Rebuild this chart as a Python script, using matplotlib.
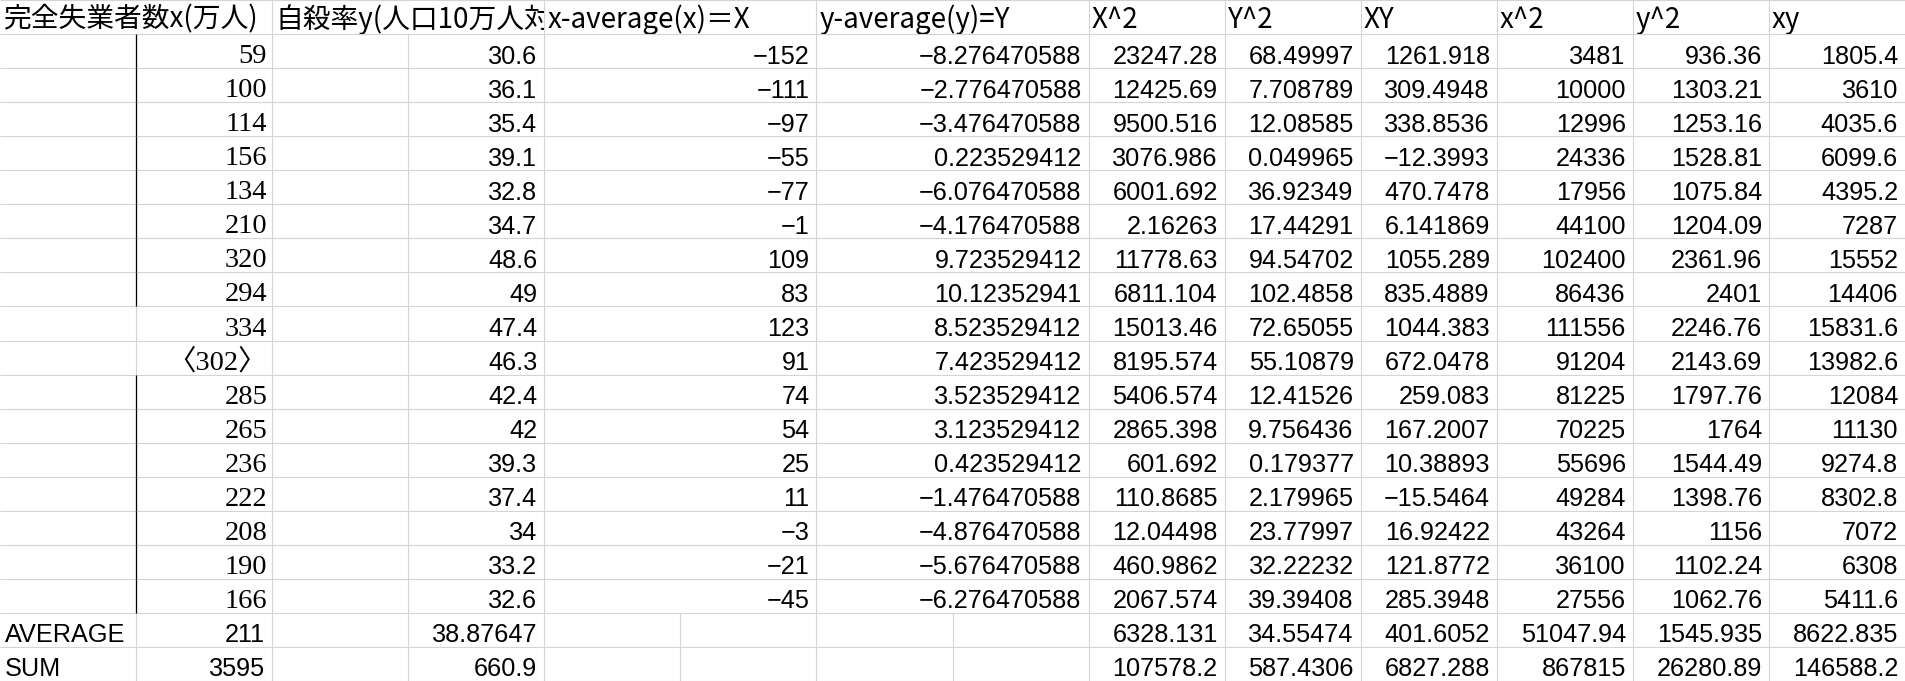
import matplotlib.pyplot as plt
from matplotlib.patches import Rectangle

plt.rcParams['font.family'] = ['Liberation Sans', 'Noto Sans CJK JP']

# 表のデータ
headers = ["完全失業者数x(万人)", "自殺率y(人口10万人対)", "x-average(x)＝X", "y-average(y)=Y",
           "X^2", "Y^2", "XY", "x^2", "y^2", "xy"]
header_cols = [0, 2, 4, 6, 8, 9, 10, 11, 12, 13]

x = [59, 100, 114, 156, 134, 210, 320, 294, 334, 302, 285, 265, 236, 222, 208, 190, 166]
y = [30.6, 36.1, 35.4, 39.1, 32.8, 34.7, 48.6, 49, 47.4, 46.3, 42.4, 42, 39.3, 37.4, 34, 33.2, 32.6]
X = [-152, -111, -97, -55, -77, -1, 109, 83, 123, 91, 74, 54, 25, 11, -3, -21, -45]
Y = [-8.276470588, -2.776470588, -3.476470588, 0.223529412, -6.076470588, -4.176470588,
     9.723529412, 10.12352941, 8.523529412, 7.423529412, 3.523529412, 3.123529412,
     0.423529412, -1.476470588, -4.876470588, -5.676470588, -6.276470588]
X2 = [23247.28, 12425.69, 9500.516, 3076.986, 6001.692, 2.16263, 11778.63, 6811.104, 15013.46,
      8195.574, 5406.574, 2865.398, 601.692, 110.8685, 12.04498, 460.9862, 2067.574]
Y2 = [68.49997, 7.708789, 12.08585, 0.049965, 36.92349, 17.44291, 94.54702, 102.4858, 72.65055,
      55.10879, 12.41526, 9.756436, 0.179377, 2.179965, 23.77997, 32.22232, 39.39408]
XY = [1261.918, 309.4948, 338.8536, -12.3993, 470.7478, 6.141869, 1055.289, 835.4889, 1044.383,
      672.0478, 259.083, 167.2007, 10.38893, -15.5464, 16.92422, 121.8772, 285.3948]
x2 = [3481, 10000, 12996, 24336, 17956, 44100, 102400, 86436, 111556, 91204, 81225, 70225,
      55696, 49284, 43264, 36100, 27556]
y2 = [936.36, 1303.21, 1253.16, 1528.81, 1075.84, 1204.09, 2361.96, 2401, 2246.76, 2143.69,
      1797.76, 1764, 1544.49, 1398.76, 1156, 1102.24, 1062.76]
xy = [1805.4, 3610, 4035.6, 6099.6, 4395.2, 7287, 15552, 14406, 15831.6, 13982.6, 12084, 11130,
      9274.8, 8302.8, 7072, 6308, 5411.6]

bracketed = 302  # 〈302〉 と表示されているセル
no_border = [334, 302]  # 黒い縦線が途切れている行

summary_labels = ["AVERAGE", "SUM"]
summary_x = [211, 3595]
summary_y = [38.87647, 660.9]
summary_rest = [[6328.131, 34.55474, 401.6052, 51047.94, 1545.935, 8622.835],
                [107578.2, 587.4306, 6827.288, 867815, 26280.89, 146588.2]]

W, H = 1905, 681
ncols, nrows = 14, 20
cw = W / ncols
rh = H / nrows
grid_c = '#d4d4d4'
fs = 18.2


def fmt(v):
    if float(v).is_integer():
        s = str(int(v))
    else:
        s = repr(v)
    return s.replace('-', '−')


fig = plt.figure(figsize=(W / 100, H / 100), dpi=100)
ax = fig.add_axes([0, 0, 1, 1])
ax.set_xlim(0, W)
ax.set_ylim(H, 0)
ax.axis('off')

# 横線
ax.hlines([k * rh for k in range(nrows + 1)], 0, W, color=grid_c, lw=0.8, zorder=50)

# 縦線
for r in range(nrows):
    if r == 0:
        cols = [2, 4, 6, 8, 9, 10, 11, 12, 13]
    elif r >= 18:
        cols = list(range(1, ncols))
    else:
        cols = [1, 2, 3, 4, 6, 8, 9, 10, 11, 12, 13]
    ax.vlines([c * cw for c in cols], r * rh, (r + 1) * rh, color=grid_c, lw=0.8, zorder=50)
    if 1 <= r <= 17 and x[r - 1] not in no_border:
        ax.vlines(cw, r * rh, (r + 1) * rh, color='black', lw=0.9, zorder=51)

# ヘッダー：次のセルを白で塗ってから書くので、はみ出した文字は隠れる
for i, (h, c) in enumerate(zip(headers, header_cols)):
    end = header_cols[i + 1] if i + 1 < len(header_cols) else ncols
    ax.add_patch(Rectangle((c * cw, 0), (end - c) * cw, rh, fc='white', ec='none', zorder=2 + 2 * i))
    ax.text(c * cw + 3, rh - 6.5, h, ha='left', va='baseline', fontsize=20,
            family=['Noto Sans CJK JP', 'DejaVu Sans'], zorder=3 + 2 * i)


def right(col_end, row, s):
    ax.text(col_end * cw - 7, (row + 1) * rh - 4.5, s, ha='right', va='baseline', fontsize=fs)


# データ行
for i in range(len(x)):
    r = i + 1
    label = '〈%d〉' % x[i] if x[i] == bracketed else str(x[i])
    ax.text(2 * cw - 5, (r + 1) * rh - 5, label, ha='right', va='baseline',
            fontsize=20.5, family=['Liberation Serif', 'Noto Sans CJK JP'])
    right(4, r, fmt(y[i]))
    right(6, r, fmt(X[i]))
    right(8, r, fmt(Y[i]))
    for col, arr in zip(range(9, 15), [X2, Y2, XY, x2, y2, xy]):
        right(col, r, fmt(arr[i]))

# AVERAGE / SUM
for j in range(2):
    r = 18 + j
    ax.text(5, (r + 1) * rh - 4.5, summary_labels[j], ha='left', va='baseline', fontsize=fs)
    right(2, r, fmt(summary_x[j]))
    right(4, r, fmt(summary_y[j]))
    for col, v in zip(range(9, 15), summary_rest[j]):
        right(col, r, fmt(v))

fig.savefig('out.png', dpi=100)
